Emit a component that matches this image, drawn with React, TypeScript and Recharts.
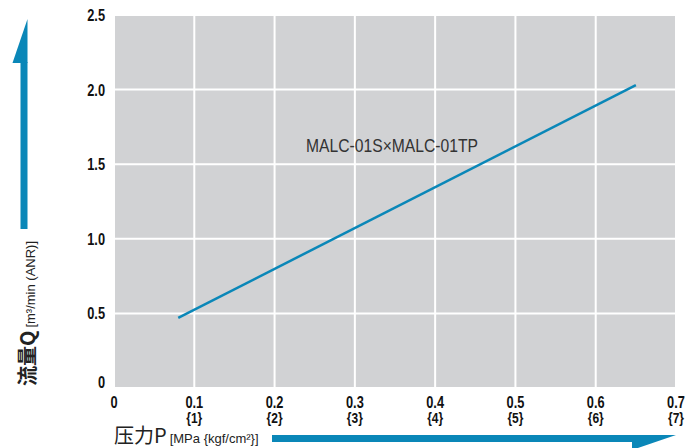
import { LineChart, Line, XAxis, YAxis, CartesianGrid } from 'recharts'

const pressureTicks = [0, 0.1, 0.2, 0.3, 0.4, 0.5, 0.6, 0.7]
const kgfLabels = ['', '{1}', '{2}', '{3}', '{4}', '{5}', '{6}', '{7}']
const flowTicks = [0, 0.5, 1.0, 1.5, 2.0, 2.5]

// MALC-01S×MALC-01TP characteristic
const pressure = [0.08, 0.65]
const flow = [0.47, 2.03]

const data = pressure.map((p, i) => ({ p, q: flow[i] }))

const BLUE = '#0a87b8'
const SANS = "'Liberation Sans', Arial, sans-serif"

// condensed look: squeeze the glyphs horizontally
const XTick = (props: any) => {
    const { x, y, payload } = props
    const i = pressureTicks.indexOf(payload.value)
    const label = payload.value === 0 ? '0' : payload.value.toFixed(1)
    return (
        <g transform={`translate(${x},${y}) scale(0.8,1)`}>
            <text x={0} y={0} dy={12} textAnchor="middle" fontFamily={SANS} fontWeight="bold" fontSize={16} fill="#111">
                {label}
            </text>
            {kgfLabels[i] && (
                <text x={0} y={0} dy={27} textAnchor="middle" fontFamily={SANS} fontWeight="bold" fontSize={15} fill="#111">
                    {kgfLabels[i]}
                </text>
            )}
        </g>
    )
}

const YTick = (props: any) => {
    const { x, y, payload } = props
    const label = payload.value === 0 ? '0' : payload.value.toFixed(1)
    return (
        <g transform={`translate(${x - 1},${y}) scale(0.8,1)`}>
            <text x={0} y={0} dy={payload.value === 0 ? 0 : 6} textAnchor="end" fontFamily={SANS} fontWeight="bold" fontSize={16} fill="#111">
                {label}
            </text>
        </g>
    )
}

export default function App() {
    return (
        <div style={{ position: 'absolute', left: 0, top: 0, width: 699, height: 448, background: '#fff' }}>
            <LineChart width={699} height={448} data={data} margin={{ top: 15, right: 23, bottom: 0, left: 0 }}>
                <CartesianGrid fill="#d1d2d4" stroke="#ffffff" strokeWidth={2} />
                <XAxis
                    dataKey="p"
                    type="number"
                    domain={[0, 0.7]}
                    ticks={pressureTicks}
                    height={60}
                    tick={<XTick />}
                    axisLine={false}
                    tickLine={false}
                    interval={0}
                />
                <YAxis
                    type="number"
                    domain={[0, 2.5]}
                    ticks={flowTicks}
                    width={114}
                    tick={<YTick />}
                    axisLine={false}
                    tickLine={false}
                    interval={0}
                />
                <Line
                    dataKey="q"
                    type="linear"
                    stroke={BLUE}
                    strokeWidth={2.5}
                    dot={false}
                    isAnimationActive={false}
                />
            </LineChart>

            <svg width={699} height={448} style={{ position: 'absolute', left: 0, top: 0, pointerEvents: 'none' }}>
                <text x={306} y={152} fontFamily={SANS} fontSize={18} fill="#333" textLength={172} lengthAdjust="spacingAndGlyphs">
                    MALC-01S×MALC-01TP
                </text>

                {/* y arrow */}
                <rect x={20.5} y={62} width={7} height={167} fill={BLUE} />
                <polygon points="27.5,19 27.5,63 12.5,63" fill={BLUE} />

                {/* x arrow */}
                <rect x={272} y={435} width={361} height={7} fill={BLUE} />
                <polygon points="676,435 632,435 632,450" fill={BLUE} />

                <text transform="translate(35,386) rotate(-90)" fill="#222">
                    <tspan fontFamily="'Noto Sans CJK JP', sans-serif" fontSize={20} fontWeight="bold">流量Q</tspan>
                    <tspan fontFamily={SANS} fontSize={13} dx={3}>[m³/min (ANR)]</tspan>
                </text>

                <text x={114} y={443} fill="#222">
                    <tspan fontFamily="'Noto Sans CJK JP', sans-serif" fontSize={20}>压力P</tspan>
                    <tspan fontFamily={SANS} fontSize={13} dx={3}>[MPa {'{'}kgf/cm²{'}'}]</tspan>
                </text>
            </svg>
        </div>
    )
}
